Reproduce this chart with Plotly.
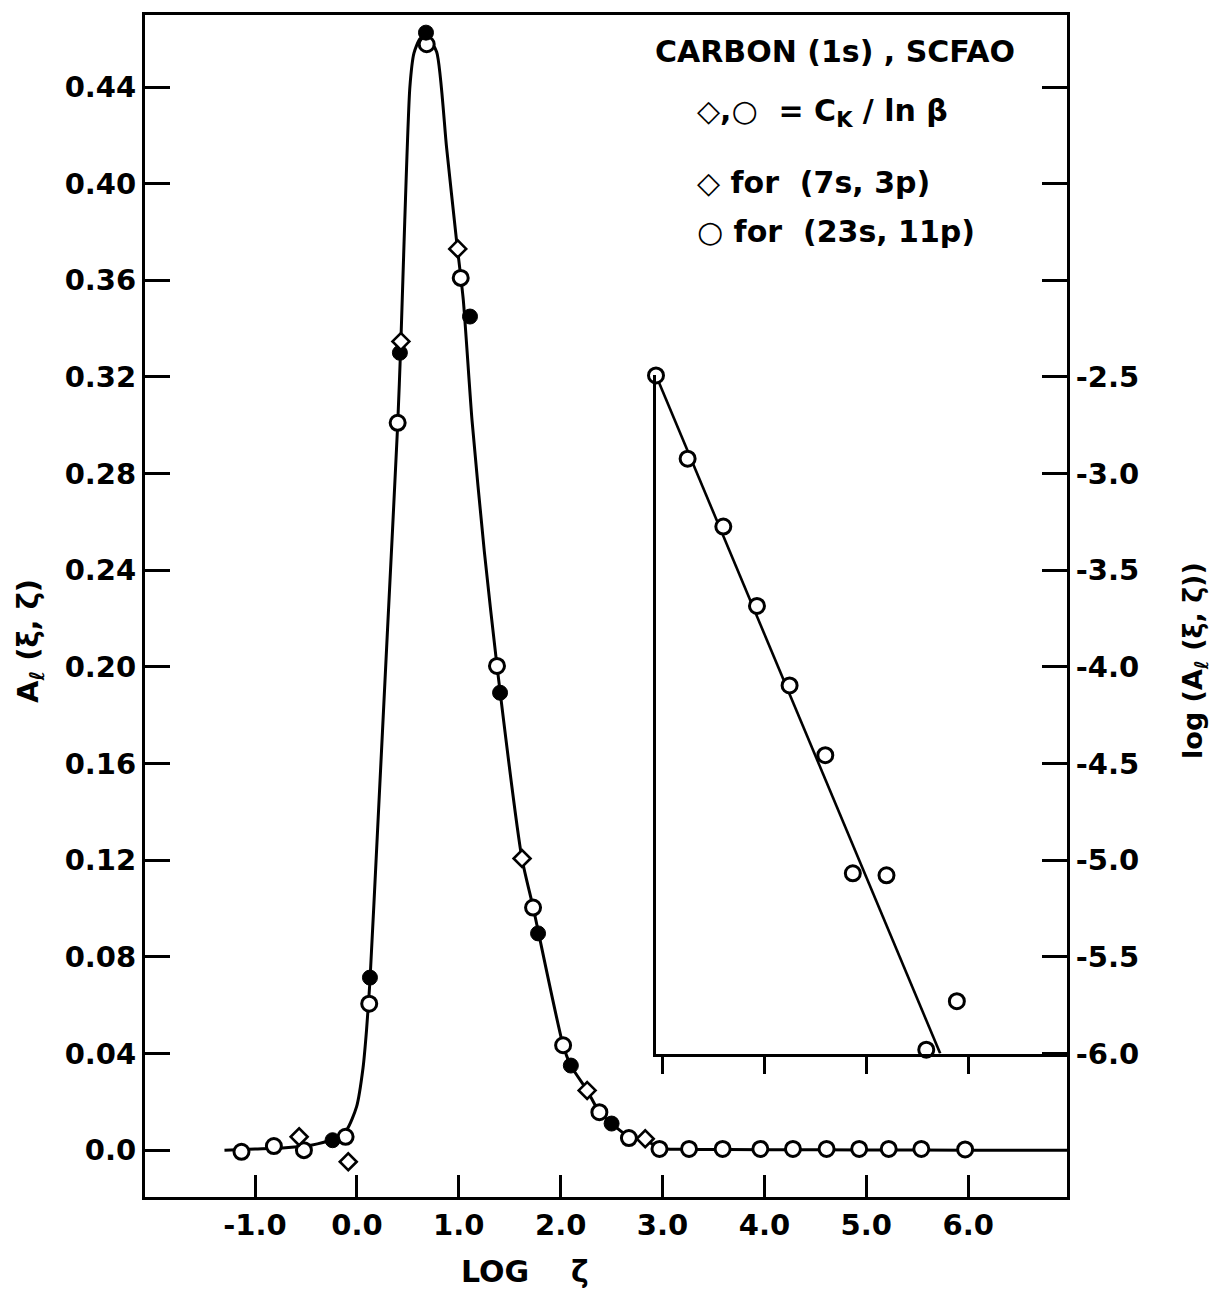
import plotly.graph_objects as go

# ---------------- data ----------------
# fitted smooth curve A_l(xi, zeta) vs log zeta
curve_x = [-1.30, -1.0, -0.7, -0.45, -0.25, -0.10, -0.003, 0.06, 0.095, 0.128,
           0.20, 0.30, 0.40, 0.432, 0.47, 0.52, 0.56, 0.62, 0.685, 0.783,
           0.88, 0.979, 1.044, 1.13, 1.25, 1.375, 1.62, 1.73, 2.024, 2.10, 2.26,
           2.38, 2.50, 2.67, 2.83, 2.97, 3.26, 4.0, 5.0, 6.0, 6.97]
curve_y = [0.0, 0.0005, 0.001, 0.002, 0.0043, 0.0085, 0.018, 0.034, 0.050, 0.070,
           0.130, 0.215, 0.300, 0.335, 0.385, 0.440, 0.454, 0.460, 0.461, 0.4545,
           0.415, 0.376, 0.352, 0.302, 0.248, 0.2004, 0.1207, 0.1004, 0.0434, 0.035, 0.0247,
           0.0157, 0.011, 0.0055, 0.0042, 0.0008, 0.0003, 0.0002, 0.0001, 0.0, 0.0]

# open circles: (23s, 11p)
open_x = [-1.133, -0.815, -0.52, -0.111, 0.121, 0.400, 0.685, 1.019, 1.375, 1.729,
          2.024, 2.38, 2.67, 2.97, 3.26, 3.59, 3.96, 4.28, 4.61, 4.93, 5.22, 5.54, 5.97]
open_y = [-0.0007, 0.0017, 0.0, 0.0055, 0.0606, 0.301, 0.4577, 0.361, 0.2004, 0.1004,
          0.0434, 0.0157, 0.005, 0.0005, 0.0005, 0.0005, 0.0005, 0.0005, 0.0005, 0.0005,
          0.0005, 0.0005, 0.0003]

# filled circles
filled_x = [-0.239, 0.128, 0.422, 0.678, 1.110, 1.405, 1.778, 2.10, 2.50]
filled_y = [0.0041, 0.0714, 0.330, 0.4625, 0.345, 0.1893, 0.0897, 0.035, 0.011]

# diamonds: (7s, 3p)
diam_x = [-0.567, -0.085, 0.432, 0.99, 1.621, 2.26, 2.83]
diam_y = [0.0055, -0.0048, 0.3347, 0.373, 0.1207, 0.0247, 0.0047]

# inset: log(A_l) vs log zeta
inset_x = [2.94, 3.25, 3.60, 3.93, 4.25, 4.60, 4.87, 5.20, 5.59, 5.89]
inset_y = [-2.50, -2.93, -3.28, -3.69, -4.10, -4.46, -5.07, -5.08, -5.98, -5.73]
fit_x = [2.94, 5.727]
fit_y = [-2.50, -6.00]

x_ticks = [-1, 0, 1, 2, 3, 4, 5, 6]
x_ticktext = ["-1.0", "0.0", "1.0", "2.0", "3.0", "4.0", "5.0", "6.0"]
y_ticks = [0.0, 0.04, 0.08, 0.12, 0.16, 0.20, 0.24, 0.28, 0.32, 0.36, 0.40, 0.44]
y_ticktext = ["0.0", "0.04", "0.08", "0.12", "0.16", "0.20", "0.24", "0.28", "0.32", "0.36", "0.40", "0.44"]
r_ticks = [-2.5, -3.0, -3.5, -4.0, -4.5, -5.0, -5.5, -6.0]
r_ticktext = ["-2.5", "-3.0", "-3.5", "-4.0", "-4.5", "-5.0", "-5.5", "-6.0"]
r_minor_ticks = [-1.0, -1.5, -2.0]
inset_ticks = [3, 4, 5, 6]

# ---------------- figure ----------------
FONT = "DejaVu Sans"
W, H = 1217, 1295
L, R, T, B = 145, 150, 13, 98
PW, PH = W - L - R, H - T - B

def px(xp):
    return (xp - L) / PW

def py(yp):
    return (H - B - yp) / PH

Y0, Y1 = -0.0194, 0.4698
R0 = -2.5 + (Y0 - 0.32) / 0.08
R1 = -2.5 + (Y1 - 0.32) / 0.08

fig = go.Figure()

fig.add_trace(go.Scatter(x=curve_x, y=curve_y, mode="lines",
                         line=dict(color="black", width=3, shape="spline", smoothing=0.6),
                         hoverinfo="skip", showlegend=False))
fig.add_trace(go.Scatter(x=open_x, y=open_y, mode="markers", cliponaxis=False,
                         marker=dict(symbol="circle", size=15, color="white",
                                     line=dict(color="black", width=3)),
                         showlegend=False))
fig.add_trace(go.Scatter(x=filled_x, y=filled_y, mode="markers", cliponaxis=False,
                         marker=dict(symbol="circle", size=15, color="black",
                                     line=dict(color="black", width=1)),
                         showlegend=False))
fig.add_trace(go.Scatter(x=diam_x, y=diam_y, mode="markers", cliponaxis=False,
                         marker=dict(symbol="diamond", size=13, color="white",
                                     line=dict(color="black", width=2.6)),
                         showlegend=False))

# dummy trace to activate the right axis
fig.add_trace(go.Scatter(x=[None], y=[None], yaxis="y2", showlegend=False, hoverinfo="skip"))

# inset
fig.add_trace(go.Scatter(x=fit_x, y=fit_y, xaxis="x3", yaxis="y3", mode="lines",
                         line=dict(color="black", width=2.6), showlegend=False, hoverinfo="skip"))
fig.add_trace(go.Scatter(x=inset_x, y=inset_y, xaxis="x3", yaxis="y3", mode="markers",
                         cliponaxis=False,
                         marker=dict(symbol="circle", size=15, color="white",
                                     line=dict(color="black", width=3)),
                         showlegend=False))

axfont = dict(family=FONT, size=29, color="black", weight="bold")

fig.update_layout(
    width=W, height=H,
    margin=dict(l=L, r=R, t=T, b=B),
    paper_bgcolor="white", plot_bgcolor="rgba(0,0,0,0)",
    font=dict(family=FONT, color="black"),
    xaxis=dict(range=[-2.08, 6.97], tickvals=x_ticks, ticktext=x_ticktext,
               ticks="inside", ticklen=22, tickwidth=2.5, tickcolor="black",
               showline=True, linewidth=3, linecolor="black", mirror=True,
               showgrid=False, zeroline=False, tickfont=axfont),
    yaxis=dict(range=[Y0, Y1], tickvals=y_ticks, ticktext=y_ticktext,
               ticks="inside", ticklen=25, tickwidth=2.5, tickcolor="black",
               showline=True, linewidth=3, linecolor="black",
               showgrid=False, zeroline=False, tickfont=axfont),
    yaxis2=dict(range=[R0, R1], overlaying="y", side="right", anchor="x",
                tickvals=r_ticks, ticktext=r_ticktext,
                ticks="inside", ticklen=25, tickwidth=2.5, tickcolor="black",
                minor=dict(tickmode="array", tickvals=r_minor_ticks, ticks="inside",
                           ticklen=25, tickwidth=2.5, tickcolor="black", showgrid=False),
                showline=True, linewidth=3, linecolor="black",
                showgrid=False, zeroline=False, tickfont=axfont),
    xaxis3=dict(domain=[px(656), 1.0], range=[2.94, 6.97], anchor="y3",
                tickvals=inset_ticks, showticklabels=False,
                ticks="outside", ticklen=17, tickwidth=2.5, tickcolor="black",
                showline=True, linewidth=3, linecolor="black",
                showgrid=False, zeroline=False),
    yaxis3=dict(domain=[py(1053.3), py(374)], range=[-6.0, -2.5], anchor="x3",
                showticklabels=False, ticks="",
                showline=True, linewidth=3, linecolor="black",
                showgrid=False, zeroline=False),
)

# axis titles
fig.add_annotation(x=px(525), y=py(1272), xref="paper", yref="paper", showarrow=False,
                   text="LOG &nbsp;&nbsp; ζ", font=dict(family=FONT, size=30, color="black", weight="bold"),
                   xanchor="center", yanchor="middle")
fig.add_annotation(x=px(30), y=py(640), xref="paper", yref="paper", showarrow=False, textangle=-90,
                   text="A<sub>ℓ</sub> (ξ, ζ)", font=dict(family=FONT, size=29, color="black", weight="bold"),
                   xanchor="center", yanchor="middle")
fig.add_annotation(x=px(1195), y=py(660), xref="paper", yref="paper", showarrow=False, textangle=-90,
                   text="log (A<sub>ℓ</sub> (ξ, ζ))", font=dict(family=FONT, size=27, color="black", weight="bold"),
                   xanchor="center", yanchor="middle")

legend_font = dict(family=FONT, size=30, color="black", weight="bold")
fig.add_annotation(x=px(835), y=py(50), xref="paper", yref="paper", showarrow=False,
                   text="CARBON (1s) , SCFAO", font=legend_font, xanchor="center", yanchor="middle")
fig.add_annotation(x=px(695), y=py(111), xref="paper", yref="paper", showarrow=False,
                   text="◇,○ &nbsp;= C<sub>K</sub> / ln β", font=legend_font, xanchor="left", yanchor="middle")
fig.add_annotation(x=px(695), y=py(181), xref="paper", yref="paper", showarrow=False,
                   text="◇ for &nbsp;(7s, 3p)", font=legend_font, xanchor="left", yanchor="middle")
fig.add_annotation(x=px(695), y=py(230), xref="paper", yref="paper", showarrow=False,
                   text="○ for &nbsp;(23s, 11p)", font=legend_font, xanchor="left", yanchor="middle")

fig.write_html("out.html")
